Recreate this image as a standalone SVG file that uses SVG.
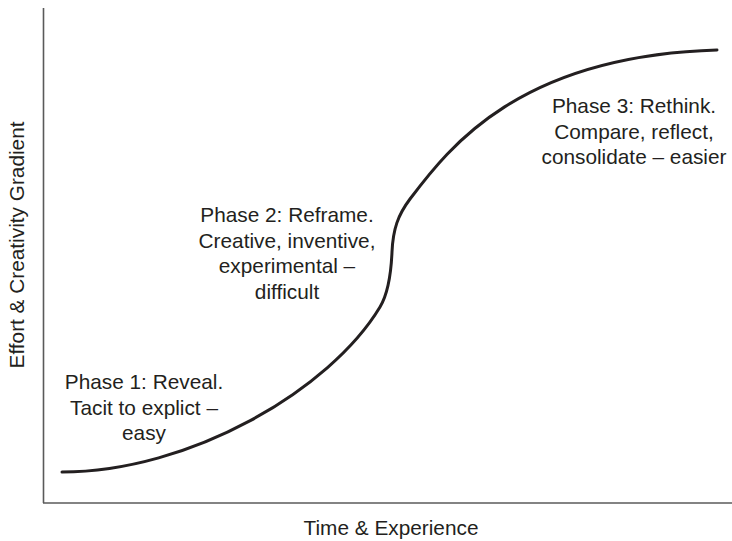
<svg xmlns="http://www.w3.org/2000/svg" width="732" height="541" viewBox="0 0 732 541">
<style>
.axis{stroke:#5a5a5a;stroke-width:1.6;fill:none}
.curve{stroke:#231f20;stroke-width:3;fill:none;stroke-linecap:round}
text{font-family:"Liberation Sans",Arial,sans-serif;font-size:20.8px;fill:#231f20}
.c{text-anchor:middle}
</style>
<rect width="732" height="541" fill="#ffffff"/>
<g id="axes">
<line class="axis" x1="43.5" y1="8" x2="43.5" y2="503"/>
<line class="axis" x1="43" y1="503" x2="732" y2="503"/>
<text class="c" x="391" y="535">Time &amp; Experience</text>
<text class="c" transform="translate(24,245) rotate(-90)">Effort &amp; Creativity Gradient</text>
</g>
<g id="connectors">
<path class="curve" d="M62,472 C190,472 330,390 380,307 C387,295.4 391,275 392,252 C393,229 398,215 410,199 C450,146 520,56 717,50"/>
</g>
<g id="phase1">
<text class="c" x="144" y="389">Phase 1: Reveal.</text>
<text class="c" x="144" y="414.5">Tacit to explict –</text>
<text class="c" x="144" y="440">easy</text>
</g>
<g id="phase2">
<text class="c" x="287" y="222">Phase 2: Reframe.</text>
<text class="c" x="287" y="247.5">Creative, inventive,</text>
<text class="c" x="287" y="273">experimental –</text>
<text class="c" x="287" y="298.5">difficult</text>
</g>
<g id="phase3">
<text class="c" x="634" y="113">Phase 3: Rethink.</text>
<text class="c" x="634" y="138.5">Compare, reflect,</text>
<text class="c" x="634" y="164">consolidate – easier</text>
</g>
</svg>
